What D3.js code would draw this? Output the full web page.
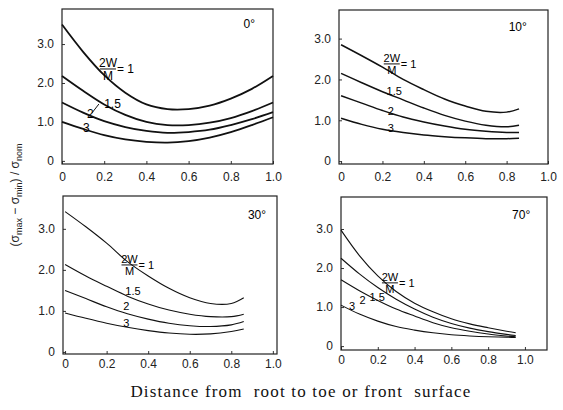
<!DOCTYPE html>
<html>
<head>
<meta charset="utf-8">
<script src="https://cdn.jsdelivr.net/npm/d3@7"></script>
<style>
  body { margin: 0; background: #fff; }
  svg { display: block; }
  .tick text { font-family: "Liberation Sans", Arial, sans-serif; font-size: 12px; fill: #222; }
  .tick line { stroke: #333; }
</style>
</head>
<body>
<svg id="chart"></svg>
<script>
// ---- data ----
const angles = ["0°", "10°", "30°", "70°"];
const ratioLabels = ["1", "1.5", "2", "3"];
const xTicks = [0, 0.2, 0.4, 0.6, 0.8, 1.0];
const yTicks = [0, 1, 2, 3];
const xTickLabels = ["0", "0.2", "0.4", "0.6", "0.8", "1.0"];
const yTickLabels = ["0", "1.0", "2.0", "3.0"];

const xsFull = [0, 0.1, 0.2, 0.3, 0.4, 0.5, 0.6, 0.7, 0.8, 0.9, 1.0];
const xsShort = [0, 0.1, 0.2, 0.3, 0.4, 0.5, 0.6, 0.7, 0.8, 0.86];
const xs70 = [0, 0.1, 0.2, 0.3, 0.4, 0.5, 0.6, 0.7, 0.8, 0.9, 0.95];

// 0 deg
const a0_r1  = [3.5, 2.8, 2.2, 1.75, 1.45, 1.33, 1.33, 1.42, 1.6, 1.85, 2.18];
const a0_r15 = [2.18, 1.8, 1.45, 1.18, 1.0, 0.92, 0.92, 0.98, 1.1, 1.28, 1.5];
const a0_r2  = [1.5, 1.24, 1.02, 0.87, 0.77, 0.72, 0.74, 0.8, 0.92, 1.07, 1.25];
const a0_r3  = [1.0, 0.82, 0.66, 0.55, 0.49, 0.47, 0.51, 0.6, 0.74, 0.92, 1.12];
// 10 deg
const a10_r1  = [2.85, 2.58, 2.3, 2.0, 1.75, 1.52, 1.35, 1.22, 1.2, 1.28];
const a10_r15 = [2.15, 1.92, 1.7, 1.5, 1.3, 1.12, 0.98, 0.88, 0.84, 0.88];
const a10_r2  = [1.6, 1.42, 1.24, 1.08, 0.96, 0.86, 0.78, 0.73, 0.7, 0.7];
const a10_r3  = [1.05, 0.9, 0.78, 0.7, 0.64, 0.6, 0.57, 0.55, 0.55, 0.56];
// 30 deg
const a30_r1  = [3.42, 3.05, 2.65, 2.2, 1.85, 1.55, 1.32, 1.18, 1.18, 1.32];
const a30_r15 = [2.13, 1.85, 1.6, 1.36, 1.17, 1.02, 0.92, 0.86, 0.86, 0.92];
const a30_r2  = [1.5, 1.3, 1.1, 0.93, 0.8, 0.7, 0.64, 0.62, 0.66, 0.74];
const a30_r3  = [0.95, 0.82, 0.7, 0.6, 0.52, 0.46, 0.43, 0.44, 0.5, 0.56];
// 70 deg
const a70_r1  = [2.97, 2.32, 1.8, 1.4, 1.1, 0.88, 0.7, 0.57, 0.47, 0.38, 0.34];
const a70_r15 = [2.25, 1.85, 1.5, 1.2, 0.95, 0.74, 0.58, 0.46, 0.37, 0.3, 0.27];
const a70_r2  = [1.7, 1.42, 1.17, 0.95, 0.77, 0.6, 0.47, 0.38, 0.31, 0.26, 0.24];
const a70_r3  = [1.05, 0.82, 0.64, 0.5, 0.41, 0.34, 0.29, 0.26, 0.24, 0.23, 0.22];

// panel layout (pixel frame + domains) and label spots in data units
const panels = [
  {angle: angles[0], xs: xsFull, series: [a0_r1, a0_r15, a0_r2, a0_r3],
   box: {left: 62, right: 273, top: 9, bottom: 164}, xDomain: [0, 1], yDomain: [-0.08, 3.9],
   lw: 1.8, pad: 8, fs: 12,
   frac: [0.218, 2.36], lab: [[0.2, 1.36], [0.118, 1.1], [0.1, 0.74]], ang: [0.86, 3.41], leader: true},
  {angle: angles[1], xs: xsShort, series: [a10_r1, a10_r15, a10_r2, a10_r3],
   box: {left: 339, right: 548, top: 10, bottom: 164}, xDomain: [-0.01, 1.0], yDomain: [-0.07, 3.7],
   lw: 1.5, pad: 8, fs: 11,
   frac: [0.245, 2.38], lab: [[0.22, 1.62], [0.226, 1.13], [0.226, 0.71]], ang: [0.81, 3.19]},
  {angle: angles[2], xs: xsShort, series: [a30_r1, a30_r15, a30_r2, a30_r3],
   box: {left: 63, right: 277, top: 196, bottom: 354}, xDomain: [-0.01, 1.02], yDomain: [-0.05, 3.8],
   lw: 1.1, pad: 5, fs: 11,
   frac: [0.31, 2.12], lab: [[0.29, 1.39], [0.28, 1.02], [0.28, 0.61]], ang: [0.88, 3.24]},
  {angle: angles[3], xs: xs70, series: [a70_r1, a70_r15, a70_r2, a70_r3],
   box: {left: 341, right: 547, top: 197, bottom: 350}, xDomain: [0, 1.12], yDomain: [-0.1, 3.82],
   lw: 1.1, pad: 5, fs: 11,
   frac: [0.266, 1.62], lab: [[0.155, 1.15], [0.1, 1.08], [0.043, 0.92]], ang: [0.93, 3.26]}
];

const W = 563, H = 410;
const svg = d3.select("#chart").attr("width", W).attr("height", H);
const sans = '"Liberation Sans", Arial, sans-serif';

panels.forEach(p => {
  const x = d3.scaleLinear().domain(p.xDomain).range([p.box.left, p.box.right]);
  const y = d3.scaleLinear().domain(p.yDomain).range([p.box.bottom, p.box.top]);
  const g = svg.append("g");

  // axes
  const xAxis = d3.axisBottom(x).tickValues(xTicks).tickSize(-3).tickPadding(p.pad)
      .tickFormat((d, i) => xTickLabels[i]);
  const yAxis = d3.axisLeft(y).tickValues(yTicks).tickSize(-3).tickPadding(8)
      .tickFormat((d, i) => yTickLabels[i]);
  g.append("g").attr("transform", `translate(0,${p.box.bottom})`).call(xAxis)
      .call(a => a.select(".domain").remove());
  g.append("g").attr("transform", `translate(${p.box.left},0)`).call(yAxis)
      .call(a => a.select(".domain").remove());

  // frame
  g.append("rect")
      .attr("x", p.box.left).attr("y", p.box.top)
      .attr("width", p.box.right - p.box.left).attr("height", p.box.bottom - p.box.top)
      .attr("fill", "none").attr("stroke", "#222").attr("stroke-width", 1.2);

  // curves
  const line = d3.line().x(d => x(d[0])).y(d => y(d[1])).curve(d3.curveCatmullRom.alpha(0.5));
  p.series.forEach(vals => {
    g.append("path")
        .attr("d", line(p.xs.map((v, i) => [v, vals[i]])))
        .attr("fill", "none").attr("stroke", "#111").attr("stroke-width", p.lw);
  });

  // 2W/M = 1 label
  const fx = x(p.frac[0]), fy = y(p.frac[1]);
  g.append("text").attr("x", fx).attr("y", fy - 2).attr("text-anchor", "middle")
      .attr("font-family", sans).attr("font-size", p.fs).text("2W");
  g.append("line").attr("x1", fx - 8).attr("x2", fx + 8).attr("y1", fy).attr("y2", fy)
      .attr("stroke", "#111").attr("stroke-width", 1);
  g.append("text").attr("x", fx).attr("y", fy + p.fs - 1).attr("text-anchor", "middle")
      .attr("font-family", sans).attr("font-size", p.fs).text("M");
  g.append("text").attr("x", fx + 9).attr("y", fy + 4)
      .attr("font-family", sans).attr("font-size", p.fs).text("= " + ratioLabels[0]);

  // other ratio labels
  p.lab.forEach((pos, i) => {
    g.append("text").attr("x", x(pos[0])).attr("y", y(pos[1]))
        .attr("font-family", sans).attr("font-size", p.fs).text(ratioLabels[i + 1]);
  });
  if (p.leader) {
    const lx = x(p.lab[1][0]), ly = y(p.lab[1][1]);
    g.append("line").attr("x1", lx + 5).attr("y1", ly - 5).attr("x2", lx + 12).attr("y2", ly - 14)
        .attr("stroke", "#111").attr("stroke-width", 1);
  }

  // angle label
  g.append("text").attr("x", x(p.ang[0])).attr("y", y(p.ang[1]))
      .attr("font-family", sans).attr("font-size", 12).text(p.angle);
});

// y title (rotated)
const yt = svg.append("text")
    .attr("transform", "translate(19,195) rotate(-90)")
    .attr("text-anchor", "middle")
    .attr("font-family", sans).attr("font-size", 12).attr("fill", "#222");
yt.append("tspan").text("(σ");
yt.append("tspan").attr("font-size", 9).attr("dy", 3).text("max");
yt.append("tspan").attr("dy", -3).text(" − σ");
yt.append("tspan").attr("font-size", 9).attr("dy", 3).text("min");
yt.append("tspan").attr("dy", -3).text(") / σ");
yt.append("tspan").attr("font-size", 9).attr("dy", 3).text("nom");

// x title
svg.append("text")
    .attr("x", 301).attr("y", 397)
    .attr("text-anchor", "middle")
    .attr("font-family", '"Liberation Serif", "Times New Roman", serif')
    .attr("font-size", 17).attr("fill", "#111")
    .attr("letter-spacing", 1.2)
    .style("white-space", "pre")
    .text("Distance from  root to toe or front  surface");
</script>
</body>
</html>
